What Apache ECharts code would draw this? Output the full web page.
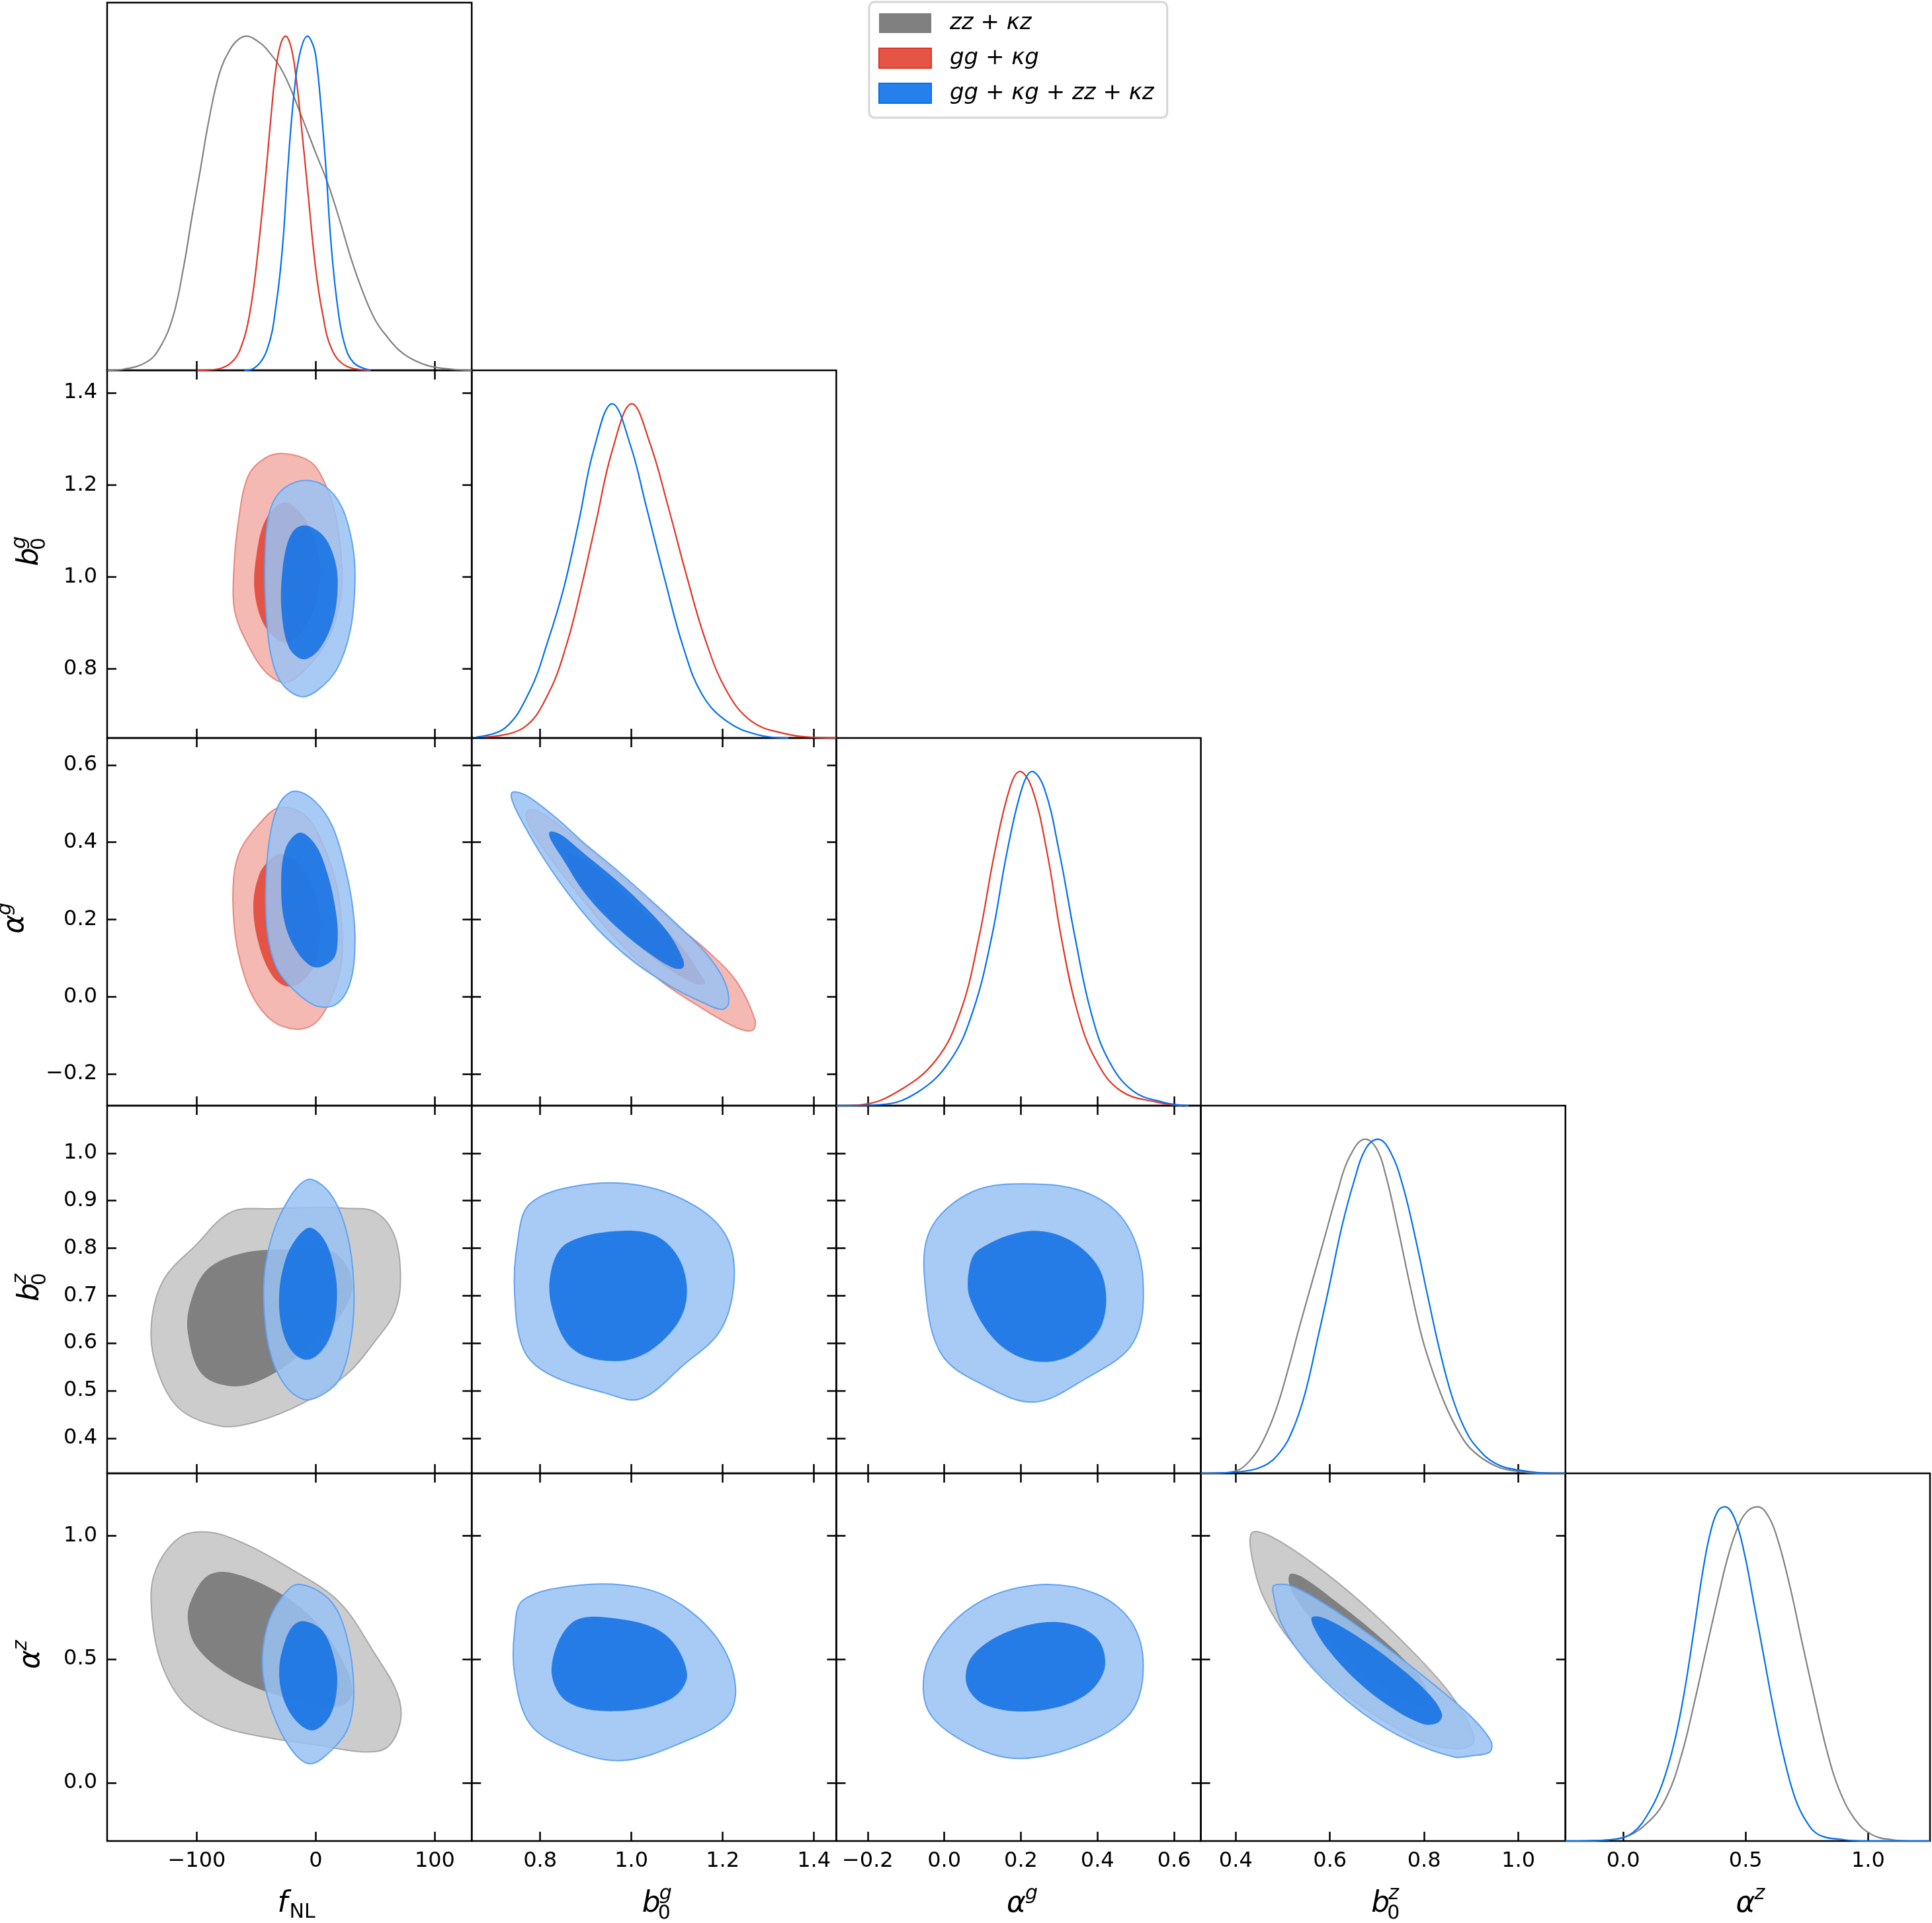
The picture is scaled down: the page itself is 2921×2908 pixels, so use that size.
<!DOCTYPE html>
<html>
<head>
<meta charset="utf-8">
<script src="https://cdn.jsdelivr.net/npm/echarts@6/dist/echarts.min.js"></script>
<style>
  html, body { margin: 0; padding: 0; background: #fff; }
  #chart { width: 2921px; height: 2908px; }
</style>
</head>
<body>
<div id="chart"></div>
<script>
// parameters: fNL, b0g, alpha_g, b0z, alpha_z
var paramRanges = [[-175.3, 131], [0.650, 1.449], [-0.282, 0.670], [0.326, 1.100], [-0.236, 1.253]];
var xTicks = [[-100, 0, 100], [0.8, 1.0, 1.2, 1.4], [-0.2, 0.0, 0.2, 0.4, 0.6], [0.4, 0.6, 0.8, 1.0], [0.0, 0.5, 1.0]];
var yTicks = [null, [0.8, 1.0, 1.2, 1.4], [-0.2, 0.0, 0.2, 0.4, 0.6], [0.4, 0.5, 0.6, 0.7, 0.8, 0.9, 1.0], [0.0, 0.5, 1.0]];
var tickDecimals = [0, 1, 1, 1, 1];
var seriesNames = ['zz + κz', 'gg + κg', 'gg + κg + zz + κz'];

// 1D marginals [value, normalised density]
var fnlGray = [[-175,0],[-162,0.003],[-142,0.025],[-131,0.068],[-120,0.16],[-111,0.31],[-104,0.46],[-97,0.6],[-90,0.745],[-81,0.888],[-72,0.96],[-65,0.99],[-58,1.0],[-49,0.985],[-41,0.96],[-27,0.888],[-12,0.76],[0,0.65],[10,0.56],[20,0.45],[30,0.33],[40,0.23],[50,0.15],[60,0.1],[70,0.06],[80,0.035],[95,0.013],[115,0.003],[131,0]];
var fnlRed = [[-100,0],[-82,0.004],[-69,0.03],[-61,0.088],[-56,0.16],[-51,0.28],[-43,0.55],[-38,0.745],[-34,0.888],[-30,0.97],[-25.4,1.0],[-21,0.97],[-17,0.888],[-12.5,0.745],[-6.5,0.529],[-0.4,0.313],[5.7,0.169],[13.7,0.061],[26,0.012],[46,0]];
var fnlBlue = [[-60,0],[-53,0.004],[-41,0.061],[-33,0.205],[-27.6,0.385],[-23.6,0.6],[-18.6,0.817],[-13.5,0.946],[-7,1.0],[-2,0.97],[0.6,0.924],[4.6,0.78],[8.6,0.6],[12.7,0.385],[17.8,0.205],[23.8,0.083],[32,0.022],[46,0]];
var b0gRed = [[0.68,0.003],[0.763,0.03],[0.817,0.13],[0.858,0.28],[0.89,0.45],[0.923,0.65],[0.958,0.86],[1.001,1.0],[1.041,0.88],[1.079,0.7],[1.122,0.48],[1.163,0.29],[1.209,0.14],[1.263,0.05],[1.33,0.015],[1.398,0.002],[1.449,0]];
var b0gBlue = [[0.66,0.003],[0.723,0.03],[0.777,0.14],[0.817,0.29],[0.852,0.45],[0.885,0.65],[0.917,0.86],[0.958,1.0],[0.998,0.875],[1.033,0.69],[1.074,0.47],[1.114,0.27],[1.155,0.13],[1.209,0.05],[1.276,0.01],[1.344,0]];
var agRed = [[-0.282,0],[-0.215,0.003],[-0.119,0.044],[-0.022,0.136],[0.042,0.28],[0.09,0.5],[0.132,0.76],[0.171,0.95],[0.197,1.0],[0.229,0.95],[0.268,0.76],[0.306,0.5],[0.348,0.28],[0.396,0.136],[0.461,0.044],[0.557,0.01],[0.62,0]];
var agBlue = [[-0.282,0],[-0.167,0.003],[-0.07,0.04],[0.016,0.136],[0.074,0.28],[0.123,0.5],[0.164,0.76],[0.203,0.95],[0.229,1.0],[0.261,0.95],[0.3,0.76],[0.342,0.5],[0.383,0.28],[0.429,0.136],[0.493,0.044],[0.573,0.01],[0.638,0]];
var b0zGray = [[0.326,0],[0.36,0.001],[0.4,0.007],[0.433,0.043],[0.459,0.1],[0.485,0.188],[0.511,0.31],[0.537,0.447],[0.563,0.577],[0.589,0.707],[0.615,0.837],[0.641,0.945],[0.675,1.0],[0.698,0.974],[0.718,0.895],[0.744,0.736],[0.77,0.563],[0.796,0.404],[0.822,0.289],[0.848,0.195],[0.874,0.123],[0.9,0.072],[0.952,0.022],[1.004,0.005],[1.056,0],[1.1,0]];
var b0zBlue = [[0.326,0],[0.402,0.004],[0.459,0.022],[0.495,0.065],[0.521,0.13],[0.547,0.238],[0.573,0.397],[0.599,0.563],[0.625,0.736],[0.651,0.873],[0.677,0.974],[0.702,1.0],[0.729,0.96],[0.755,0.859],[0.781,0.707],[0.807,0.534],[0.833,0.368],[0.859,0.231],[0.885,0.137],[0.911,0.079],[0.952,0.029],[1.004,0.009],[1.072,0],[1.1,0]];
var azGray = [[-0.236,0],[-0.136,0.001],[0,0.011],[0.11,0.062],[0.179,0.135],[0.239,0.26],[0.288,0.406],[0.337,0.567],[0.387,0.728],[0.426,0.846],[0.465,0.933],[0.505,0.985],[0.549,1.0],[0.594,0.97],[0.633,0.897],[0.682,0.758],[0.732,0.589],[0.781,0.428],[0.83,0.275],[0.88,0.157],[0.949,0.062],[1.018,0.018],[1.097,0.004],[1.195,0],[1.253,0]];
var azBlue = [[-0.236,0],[-0.185,0],[-0.037,0.005],[0.041,0.026],[0.11,0.092],[0.16,0.172],[0.209,0.296],[0.249,0.443],[0.288,0.626],[0.327,0.816],[0.357,0.926],[0.387,0.988],[0.416,1.0],[0.456,0.963],[0.495,0.86],[0.535,0.706],[0.574,0.553],[0.613,0.399],[0.653,0.26],[0.702,0.128],[0.751,0.055],[0.801,0.018],[0.899,0.004],[0.998,0],[1.253,0]];

// 2D contours [x, y] (outer = 95%, inner = 68%)
var fnlB0gRedOuter = [[-26.6,1.268],[-4.4,1.25],[7.7,1.203],[16.8,1.131],[21.8,1.028],[20.8,0.956],[11.7,0.873],[-4.4,0.811],[-24.6,0.771],[-40.8,0.79],[-56.9,0.852],[-68,0.924],[-69,1.007],[-65,1.121],[-56.9,1.219],[-42.8,1.258]];
var fnlB0gRedInner = [[-26.6,1.162],[-10.5,1.131],[1.6,1.059],[3.6,0.997],[-2.4,0.924],[-14.5,0.873],[-26.6,0.857],[-42.8,0.893],[-51.3,0.966],[-49.8,1.049],[-41.8,1.126]];
var fnlB0gBlueOuter = [[-12.5,1.209],[6.7,1.199],[21.8,1.152],[30.9,1.069],[32.9,0.987],[28.9,0.883],[17.8,0.8],[1.6,0.754],[-12.5,0.74],[-28.7,0.769],[-37.7,0.831],[-41.8,0.924],[-42.8,1.028],[-39.8,1.131],[-30.7,1.183]];
var fnlB0gBlueInner = [[-6.5,1.111],[7.7,1.085],[16.8,1.028],[18.2,0.966],[13.7,0.899],[2.6,0.842],[-10.5,0.821],[-22.6,0.847],[-28.7,0.924],[-28.3,1.007],[-23.6,1.075],[-16.5,1.106]];

var fnlAgRedOuter = [[-30.7,0.49],[-8.5,0.468],[7.7,0.382],[17.8,0.283],[22.2,0.16],[20.8,0.074],[11.7,-0.012],[-0.4,-0.068],[-16.5,-0.084],[-36.7,-0.062],[-52.9,0],[-63,0.086],[-68.6,0.185],[-69,0.308],[-63,0.382],[-48.8,0.443]];
var fnlAgRedInner = [[-28.7,0.369],[-10.5,0.332],[1.6,0.246],[3.6,0.16],[-0.4,0.086],[-12.5,0.037],[-24.6,0.027],[-36.7,0.055],[-47.8,0.135],[-52.5,0.234],[-47.8,0.314],[-38.8,0.354]];
var fnlAgBlueOuter = [[-17.6,0.532],[-0.4,0.505],[13.7,0.443],[23.8,0.345],[30.9,0.234],[32.9,0.135],[28.9,0.037],[17.8,-0.018],[1.6,-0.025],[-16.5,0.012],[-32.7,0.074],[-40.8,0.172],[-41.8,0.308],[-37.7,0.431],[-29.7,0.505]];
var fnlAgBlueInner = [[-13.5,0.425],[-0.4,0.394],[9.7,0.32],[16.8,0.222],[18.4,0.148],[14.7,0.098],[-0.4,0.076],[-14.5,0.111],[-25.6,0.185],[-29.1,0.283],[-25.6,0.382]];

var b0gAgRedOuter = [[0.771,0.48],[0.796,0.48],[0.871,0.417],[0.979,0.309],[1.086,0.198],[1.166,0.119],[1.23,0.04],[1.271,-0.061],[1.265,-0.087],[1.23,-0.08],[1.155,-0.03],[1.059,0.046],[0.963,0.154],[0.882,0.268],[0.812,0.375],[0.775,0.445]];
var b0gAgRedInner = [[0.861,0.369],[0.909,0.344],[1.005,0.242],[1.102,0.141],[1.158,0.046],[1.161,0.034],[1.139,0.034],[1.059,0.091],[0.963,0.192],[0.888,0.293],[0.863,0.344]];
var b0gAgBlueOuter = [[0.74,0.53],[0.77,0.521],[0.834,0.464],[0.898,0.396],[0.962,0.334],[1.032,0.261],[1.102,0.185],[1.166,0.109],[1.204,0.04],[1.213,-0.017],[1.198,-0.033],[1.155,-0.014],[1.086,0.027],[1.005,0.091],[0.93,0.17],[0.861,0.268],[0.802,0.369],[0.753,0.47],[0.737,0.515]];
var b0gAgBlueInner = [[0.821,0.427],[0.845,0.42],[0.898,0.369],[0.963,0.306],[1.027,0.236],[1.08,0.167],[1.113,0.097],[1.113,0.075],[1.091,0.075],[1.038,0.113],[0.963,0.185],[0.898,0.268],[0.85,0.356],[0.823,0.407]];

var fnlB0zGrayOuter = [[-101.3,0.805],[-71,0.876],[-35,0.883],[-0.4,0.886],[25,0.884],[50,0.876],[66.2,0.825],[71.2,0.735],[66.2,0.665],[50,0.605],[25.8,0.534],[-10.5,0.474],[-50.9,0.434],[-81.1,0.426],[-115.4,0.464],[-134.6,0.555],[-138,0.645],[-127.5,0.735]];
var fnlB0zGrayInner = [[-105.3,0.685],[-91.2,0.755],[-61,0.79],[-20.6,0.797],[15.7,0.79],[30.9,0.725],[19.8,0.655],[-4.4,0.595],[-36.7,0.534],[-67,0.509],[-95.3,0.534],[-107.4,0.62]];
var fnlB0zBlueOuter = [[-7.5,0.944],[11.7,0.916],[25.8,0.835],[31.9,0.725],[29.9,0.615],[19.8,0.524],[3.6,0.489],[-10.5,0.482],[-26.6,0.514],[-38.8,0.585],[-43.8,0.695],[-40.8,0.785],[-28.7,0.876]];
var fnlB0zBlueInner = [[-4.8,0.843],[7.7,0.815],[15.7,0.755],[17.8,0.695],[13.7,0.625],[3.6,0.58],[-8.5,0.565],[-20.6,0.585],[-28.7,0.635],[-30.7,0.705],[-25.6,0.775],[-16.5,0.82]];

var fnlAzGrayOuter = [[-135.6,0.846],[-115.4,0.99],[-91.2,1.015],[-61,0.971],[-20.6,0.865],[19.8,0.731],[50,0.519],[68.2,0.365],[71.2,0.25],[60.1,0.144],[40,0.125],[-0.4,0.154],[-40.8,0.183],[-81.1,0.231],[-111.4,0.327],[-129.6,0.481],[-137.6,0.673]];
var fnlAzGrayInner = [[-105.3,0.731],[-91.2,0.837],[-71,0.85],[-30.7,0.769],[-0.4,0.654],[21.8,0.5],[30.9,0.365],[19.8,0.308],[-10.5,0.327],[-50.9,0.385],[-81.1,0.462],[-101.3,0.558],[-107.4,0.654]];
var fnlAzBlueOuter = [[-14.5,0.804],[11.7,0.74],[25.8,0.596],[31.9,0.385],[27.9,0.231],[15.7,0.144],[-4.4,0.077],[-20.6,0.135],[-36.7,0.288],[-44.8,0.462],[-40.8,0.635],[-28.7,0.75]];
var fnlAzBlueInner = [[-9.5,0.654],[5.7,0.615],[15.7,0.5],[17.8,0.385],[11.7,0.269],[-2.4,0.212],[-16.5,0.25],[-27.6,0.346],[-30.7,0.462],[-25.6,0.577],[-18.6,0.638]];

var b0gB0zBlueOuter = [[0.777,0.893],[0.885,0.932],[1.02,0.932],[1.141,0.888],[1.209,0.823],[1.225,0.731],[1.195,0.627],[1.114,0.554],[1.02,0.483],[0.939,0.496],[0.817,0.536],[0.763,0.588],[0.744,0.705],[0.75,0.81]];
var b0gB0zBlueInner = [[0.858,0.81],[0.966,0.836],[1.06,0.823],[1.114,0.757],[1.114,0.666],[1.047,0.588],[0.966,0.562],[0.871,0.588],[0.825,0.679],[0.825,0.757]];
var agB0zBlueOuter = [[-0.038,0.836],[0.074,0.919],[0.235,0.935],[0.38,0.914],[0.477,0.849],[0.519,0.731],[0.493,0.601],[0.364,0.523],[0.235,0.476],[0.107,0.51],[-0.006,0.575],[-0.048,0.705]];
var agB0zBlueInner = [[0.09,0.797],[0.219,0.836],[0.332,0.815],[0.412,0.744],[0.412,0.64],[0.332,0.575],[0.235,0.562],[0.139,0.601],[0.068,0.692],[0.065,0.757]];
var b0gAzBlueOuter = [[0.763,0.74],[0.885,0.8],[1.02,0.79],[1.114,0.715],[1.195,0.565],[1.228,0.39],[1.209,0.265],[1.114,0.165],[0.979,0.09],[0.858,0.14],[0.777,0.24],[0.744,0.44],[0.744,0.615]];
var b0gAzBlueInner = [[0.871,0.65],[0.966,0.665],[1.074,0.6],[1.122,0.44],[1.087,0.34],[0.966,0.29],[0.858,0.33],[0.825,0.465]];
var agAzBlueOuter = [[-0.038,0.515],[0.074,0.715],[0.235,0.8],[0.396,0.765],[0.493,0.64],[0.519,0.44],[0.477,0.265],[0.332,0.14],[0.171,0.1],[0.026,0.19],[-0.048,0.315]];
var agAzBlueInner = [[0.074,0.515],[0.171,0.615],[0.3,0.65],[0.396,0.59],[0.419,0.465],[0.364,0.35],[0.235,0.29],[0.107,0.315],[0.058,0.4]];

var b0zAzGrayOuter = [[0.435,1.013],[0.474,0.998],[0.563,0.889],[0.666,0.731],[0.77,0.542],[0.853,0.366],[0.9,0.217],[0.903,0.158],[0.864,0.138],[0.796,0.168],[0.718,0.247],[0.615,0.385],[0.521,0.563],[0.459,0.751],[0.433,0.929]];
var b0zAzGrayInner = [[0.516,0.845],[0.542,0.832],[0.615,0.731],[0.692,0.613],[0.76,0.494],[0.802,0.395],[0.807,0.326],[0.781,0.311],[0.718,0.375],[0.641,0.494],[0.573,0.632],[0.526,0.751],[0.513,0.81]];
var b0zAzBlueOuter = [[0.482,0.8],[0.521,0.795],[0.615,0.692],[0.718,0.551],[0.822,0.395],[0.9,0.267],[0.942,0.168],[0.939,0.124],[0.9,0.109],[0.864,0.104],[0.77,0.168],[0.666,0.287],[0.563,0.464],[0.5,0.632],[0.479,0.771]];
var b0zAzBlueInner = [[0.563,0.672],[0.594,0.662],[0.666,0.583],[0.744,0.474],[0.812,0.356],[0.838,0.277],[0.828,0.242],[0.796,0.239],[0.729,0.306],[0.656,0.415],[0.594,0.544],[0.563,0.642]];

var palette = [
  { outer: '#cccccc', inner: '#808080', edge: '#a8a8a8', line: '#808080' },
  { outer: '#f4b9b3', inner: '#e45446', edge: '#e8877d', line: '#e03424' },
  { outer: 'rgba(153,194,243,0.85)', inner: 'rgba(15,111,227,0.85)', edge: '#62a2ef', line: '#006fed' }
];

var diagPanels = [
  { c: 0, curves: [[fnlGray, 0], [fnlRed, 1], [fnlBlue, 2]] },
  { c: 1, curves: [[b0gRed, 1], [b0gBlue, 2]] },
  { c: 2, curves: [[agRed, 1], [agBlue, 2]] },
  { c: 3, curves: [[b0zGray, 0], [b0zBlue, 2]] },
  { c: 4, curves: [[azGray, 0], [azBlue, 2]] }
];
var pairPanels = [
  { r: 1, c: 0, sets: [[fnlB0gRedOuter, fnlB0gRedInner, 1], [fnlB0gBlueOuter, fnlB0gBlueInner, 2]] },
  { r: 2, c: 0, sets: [[fnlAgRedOuter, fnlAgRedInner, 1], [fnlAgBlueOuter, fnlAgBlueInner, 2]] },
  { r: 2, c: 1, sets: [[b0gAgRedOuter, b0gAgRedInner, 1], [b0gAgBlueOuter, b0gAgBlueInner, 2]] },
  { r: 3, c: 0, sets: [[fnlB0zGrayOuter, fnlB0zGrayInner, 0], [fnlB0zBlueOuter, fnlB0zBlueInner, 2]] },
  { r: 3, c: 1, sets: [[b0gB0zBlueOuter, b0gB0zBlueInner, 2]] },
  { r: 3, c: 2, sets: [[agB0zBlueOuter, agB0zBlueInner, 2]] },
  { r: 4, c: 0, sets: [[fnlAzGrayOuter, fnlAzGrayInner, 0], [fnlAzBlueOuter, fnlAzBlueInner, 2]] },
  { r: 4, c: 1, sets: [[b0gAzBlueOuter, b0gAzBlueInner, 2]] },
  { r: 4, c: 2, sets: [[agAzBlueOuter, agAzBlueInner, 2]] },
  { r: 4, c: 3, sets: [[b0zAzGrayOuter, b0zAzGrayInner, 0], [b0zAzBlueOuter, b0zAzBlueInner, 2]] }
];

var gridLeft = 162, gridTop = 4, cellW = 551.2, cellH = 556;
var FONT = 'DejaVu Sans';

var grids = [], xAxes = [], yAxes = [], series = [];

function tickFmt(i) {
  return function (v) {
    var s = Math.abs(v).toFixed(tickDecimals[i]);
    return (v < 0 ? '\u2212' : '') + s;
  };
}

function makeAxis(gi, pos, range, ticks, showLabel, dec) {
  return {
    type: 'value', gridIndex: gi, position: pos,
    min: range[0], max: range[1],
    axisLine: { show: false, onZero: false },
    splitLine: { show: false },
    axisTick: { show: true, inside: true, length: 14, customValues: ticks, lineStyle: { color: '#000', width: 2.5 } },
    axisLabel: {
      show: showLabel, customValues: ticks, formatter: tickFmt(dec),
      fontSize: 32, fontFamily: FONT, color: '#000', margin: 15
    }
  };
}

function addGrid(r, c) {
  grids.push({
    left: gridLeft + c * cellW, top: gridTop + r * cellH, width: cellW, height: cellH,
    show: true, borderColor: '#000', borderWidth: 2.5, backgroundColor: 'transparent'
  });
  return grids.length - 1;
}

function polySeries(name, xi, yi, pts, fill, stroke) {
  return {
    type: 'custom', name: name, xAxisIndex: xi, yAxisIndex: yi,
    data: pts, encode: { x: 0, y: 1 }, silent: true,
    renderItem: function (params, api) {
      if (params.dataIndex !== 0) return null;
      var points = pts.map(function (p) { return api.coord(p); });
      return {
        type: 'polygon',
        shape: { points: points, smooth: 0.35 },
        style: { fill: fill, stroke: stroke || null, lineWidth: stroke ? 2 : 0 }
      };
    }
  };
}

diagPanels.forEach(function (p) {
  var gi = addGrid(p.c, p.c);
  xAxes.push(makeAxis(gi, 'bottom', paramRanges[p.c], xTicks[p.c], p.c === 4, p.c));
  var xi = xAxes.length - 1;
  yAxes.push({ type: 'value', gridIndex: gi, min: 0, max: 1.1, show: false });
  var yi = yAxes.length - 1;
  p.curves.forEach(function (cv) {
    var col = palette[cv[1]].line;
    series.push({
      type: 'line', name: seriesNames[cv[1]], xAxisIndex: xi, yAxisIndex: yi,
      data: cv[0], showSymbol: false, smooth: 0.4, silent: true,
      lineStyle: { color: col, width: 2.2 }, itemStyle: { color: col }
    });
  });
});

pairPanels.forEach(function (p) {
  var gi = addGrid(p.r, p.c);
  xAxes.push(makeAxis(gi, 'bottom', paramRanges[p.c], xTicks[p.c], p.r === 4, p.c));
  var xi = xAxes.length - 1;
  xAxes.push(makeAxis(gi, 'top', paramRanges[p.c], xTicks[p.c], false, p.c));
  yAxes.push(makeAxis(gi, 'left', paramRanges[p.r], yTicks[p.r], p.c === 0, p.r));
  var yi = yAxes.length - 1;
  yAxes.push(makeAxis(gi, 'right', paramRanges[p.r], yTicks[p.r], false, p.r));
  p.sets.forEach(function (s) {
    var pal = palette[s[2]];
    series.push(polySeries(seriesNames[s[2]], xi, yi, s[0], pal.outer, pal.edge));
    series.push(polySeries(seriesNames[s[2]], xi, yi, s[1], pal.inner, null));
  });
});

// axis titles (math-style pieces)
var titleParts = [
  [{ t: 'f', it: true, dx: -18, dy: 0, s: 44 }, { t: 'NL', it: false, dx: 0, dy: 12, s: 30 }],
  [{ t: 'b', it: true, dx: -18, dy: 0, s: 44 }, { t: 'g', it: true, dx: 8, dy: -16, s: 30 }, { t: '0', it: false, dx: 6, dy: 14, s: 30 }],
  [{ t: 'α', it: true, dx: -18, dy: 0, s: 44 }, { t: 'g', it: true, dx: 10, dy: -16, s: 30 }],
  [{ t: 'b', it: true, dx: -18, dy: 0, s: 44 }, { t: 'z', it: true, dx: 8, dy: -16, s: 30 }, { t: '0', it: false, dx: 6, dy: 14, s: 30 }],
  [{ t: 'α', it: true, dx: -18, dy: 0, s: 44 }, { t: 'z', it: true, dx: 10, dy: -16, s: 30 }]
];
var yTitleX = [0, 46, 24, 47, 48];

function mathLabel(parts, x, y, rot) {
  return {
    type: 'group', x: x, y: y, rotation: rot, silent: true,
    children: parts.map(function (p) {
      return {
        type: 'text', x: p.dx, y: p.dy,
        style: {
          text: p.t, fontSize: p.s, fontFamily: FONT, fontStyle: p.it ? 'italic' : 'normal',
          fill: '#000', align: 'left', verticalAlign: 'middle'
        }
      };
    })
  };
}

var graphics = [];
for (var i = 0; i < 5; i++) {
  graphics.push(mathLabel(titleParts[i], gridLeft + (i + 0.5) * cellW, 2880, 0));
  if (i > 0) graphics.push(mathLabel(titleParts[i], yTitleX[i], gridTop + (i + 0.5) * cellH, Math.PI / 2));
}

var legendText = {
  'zz + κz': '{i|zz} + {i|κz}',
  'gg + κg': '{i|gg} + {i|κg}',
  'gg + κg + zz + κz': '{i|gg} + {i|κg} + {i|zz} + {i|κz}'
};

var option = {
  animation: false,
  backgroundColor: '#fff',
  grid: grids,
  xAxis: xAxes,
  yAxis: yAxes,
  legend: {
    left: 1314, top: 3, orient: 'vertical', selectedMode: false,
    padding: [15, 20, 20, 14], itemGap: 19, itemWidth: 79, itemHeight: 30,
    backgroundColor: '#fff', borderColor: '#d6d6d6', borderWidth: 3, borderRadius: 8,
    icon: 'rect',
    data: [
      { name: seriesNames[0], itemStyle: { color: '#808080', borderWidth: 0 } },
      { name: seriesNames[1], itemStyle: { color: '#e45545', borderColor: '#e03424', borderWidth: 2 } },
      { name: seriesNames[2], itemStyle: { color: '#2680eb', borderColor: '#006fed', borderWidth: 2 } }
    ],
    formatter: function (name) { return legendText[name]; },
    textStyle: {
      fontSize: 34, fontFamily: FONT, color: '#000', lineHeight: 30, padding: [0, 0, 0, 23],
      rich: { i: { fontSize: 34, fontFamily: FONT, fontStyle: 'italic', color: '#000', lineHeight: 30 } }
    }
  },
  graphic: graphics,
  series: series
};

var chart = echarts.init(document.getElementById('chart'));
chart.setOption(option);
</script>
</body>
</html>
